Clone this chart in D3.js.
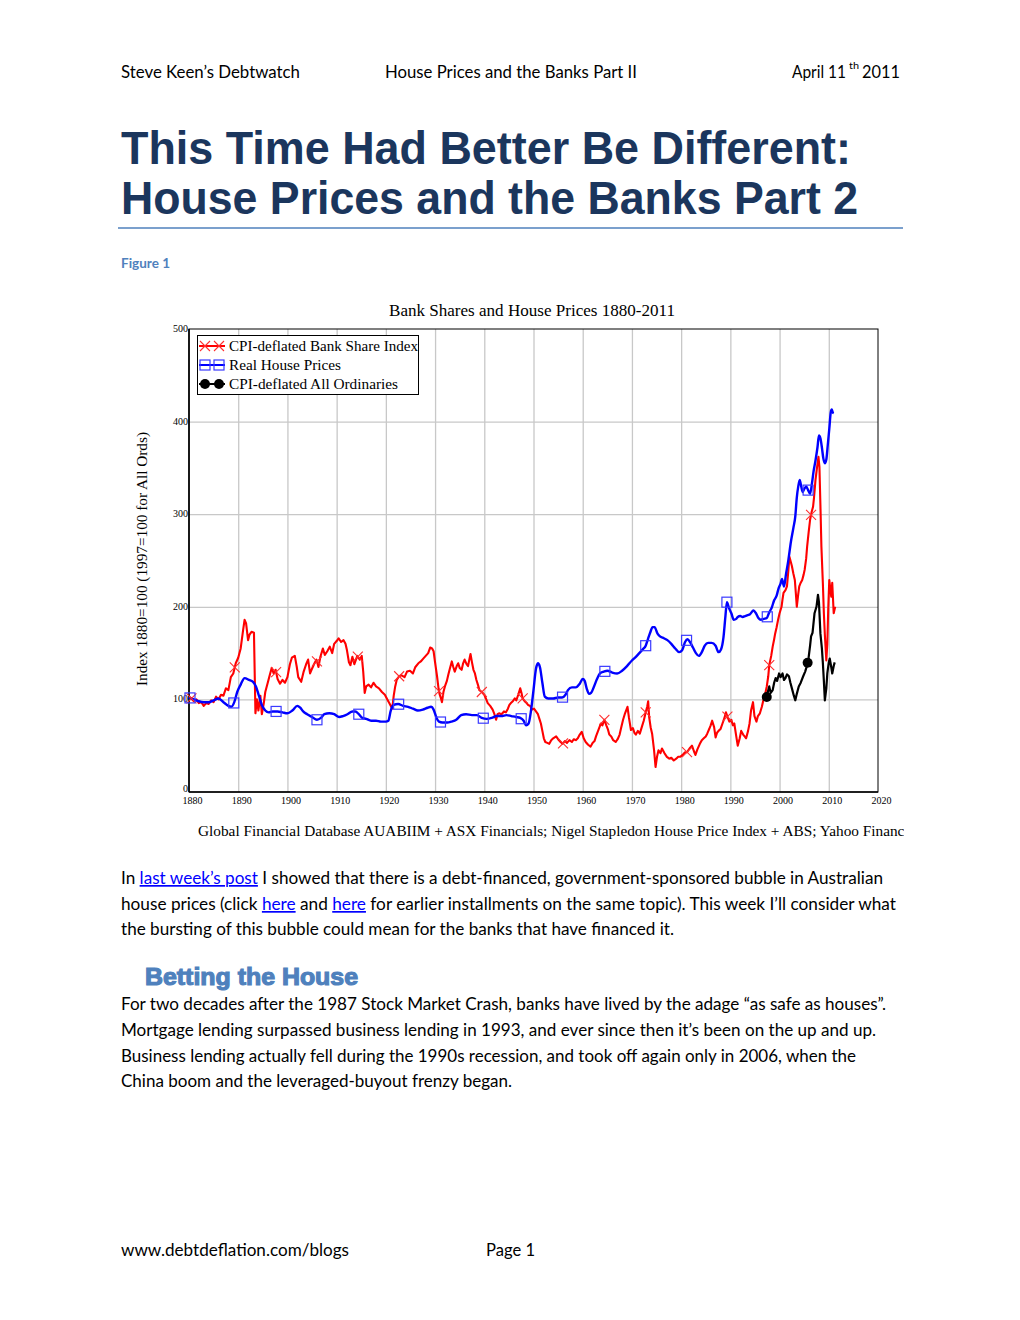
<!DOCTYPE html>
<html><head><meta charset="utf-8">
<script src="https://cdn.jsdelivr.net/npm/d3@7"></script>
<style>
body{margin:0;background:#fff;}
svg{display:block;}
</style></head>
<body><svg id="c" width="1020" height="1320"></svg>
<script>
// ---------------- DATA ----------------
const chartTitle = "Bank Shares and House Prices 1880-2011";
const seriesNames = ["CPI-deflated Bank Share Index", "Real House Prices", "CPI-deflated All Ordinaries"];
const xTicks = [1880,1890,1900,1910,1920,1930,1940,1950,1960,1970,1980,1990,2000,2010,2020];
const yTicks = [0,100,200,300,400,500];

const bankYears = [1880.0,1880.5,1881.0,1881.5,1882.0,1882.5,1883.0,1883.5,1884.0,1884.5,1885.0,1885.5,1886.0,1886.5,1887.0,1887.5,1888.0,1888.5,1889.0,1889.5,1890.0,1890.5,1891.0,1891.3,1891.6,1892.0,1892.3,1892.7,1893.2,1893.5,1893.8,1894.1,1894.5,1894.8,1895.2,1895.5,1896.0,1896.4,1896.8,1897.2,1897.6,1898.0,1898.5,1899.0,1899.5,1900.0,1900.5,1900.9,1901.5,1901.9,1902.2,1902.8,1903.3,1903.8,1904.2,1904.6,1904.9,1905.4,1905.9,1906.3,1906.7,1907.2,1907.6,1908.1,1908.6,1909.1,1909.5,1910.0,1910.4,1910.9,1911.4,1911.8,1912.1,1912.5,1912.8,1913.2,1913.6,1914.2,1914.7,1915.1,1915.4,1915.7,1916.0,1916.5,1917.0,1917.5,1918.0,1918.6,1919.2,1919.8,1920.3,1920.8,1921.3,1921.6,1921.9,1922.2,1922.7,1923.2,1923.8,1924.3,1924.9,1925.5,1926.0,1926.6,1927.1,1927.6,1928.1,1928.6,1929.0,1929.4,1929.7,1930.0,1930.4,1930.7,1930.9,1931.2,1931.4,1931.7,1932.0,1932.4,1932.7,1933.0,1933.4,1933.7,1934.0,1934.4,1934.7,1935.0,1935.4,1935.7,1936.0,1936.4,1936.7,1937.0,1937.2,1937.5,1937.8,1938.1,1938.4,1938.7,1939.0,1939.5,1940.0,1940.4,1940.7,1941.2,1941.7,1942.0,1942.4,1942.7,1943.0,1943.5,1944.0,1944.4,1944.8,1945.1,1945.4,1945.8,1946.2,1946.5,1946.9,1947.3,1947.6,1947.8,1948.2,1948.6,1948.9,1949.3,1949.7,1950.1,1950.5,1950.9,1951.2,1951.5,1951.8,1952.1,1952.4,1952.8,1953.2,1953.6,1954.0,1954.6,1955.0,1955.5,1955.9,1956.4,1956.8,1957.3,1957.8,1958.2,1958.6,1959.0,1959.4,1959.8,1960.2,1960.6,1961.1,1961.6,1962.0,1962.4,1962.7,1963.2,1963.7,1964.0,1964.4,1964.8,1965.1,1965.4,1965.8,1966.2,1966.7,1967.1,1967.5,1967.8,1968.2,1968.6,1969.1,1969.4,1969.8,1970.2,1970.5,1970.8,1971.2,1971.6,1972.0,1972.4,1972.8,1973.1,1973.3,1973.5,1973.8,1974.1,1974.5,1974.8,1975.1,1975.4,1975.8,1976.1,1976.6,1977.1,1977.6,1978.0,1978.5,1979.0,1979.4,1979.8,1980.3,1980.8,1981.2,1981.7,1982.2,1982.6,1982.9,1983.3,1983.8,1984.2,1984.6,1985.0,1985.3,1985.7,1986.0,1986.3,1986.7,1987.0,1987.3,1987.6,1988.0,1988.4,1988.8,1989.1,1989.5,1989.8,1990.2,1990.5,1990.8,1991.2,1991.5,1991.9,1992.2,1992.6,1992.9,1993.2,1993.6,1993.9,1994.2,1994.6,1994.9,1995.3,1995.6,1996.0,1996.4,1996.7,1997.0,1997.4,1997.7,1997.9,1998.3,1998.6,1998.9,1999.1,1999.4,1999.7,2000.0,2000.4,2000.6,2000.8,2001.2,2001.5,2001.8,2002.0,2002.3,2002.5,2002.8,2003.1,2003.3,2003.5,2003.8,2004.0,2004.3,2004.6,2004.9,2005.1,2005.4,2005.6,2005.9,2006.2,2006.5,2006.8,2007.0,2007.3,2007.6,2007.9,2008.1,2008.3,2008.5,2008.8,2009.0,2009.2,2009.5,2009.7,2009.9,2010.1,2010.3,2010.5,2010.7,2011.0,2011.3];
const bankValues = [103,101,98,100,96,97,93,96,95,99,97,103,100,105,104,112,110,124,128,139,145,155,175,186,182,164,170,173,172,85,100,88,104,84,96,108,118,126,134,128,132,122,117,121,118,124,138,145,147,135,124,119,130,138,143,128,132,138,143,135,146,155,148,152,157,150,160,163,166,162,164,160,153,140,137,146,138,147,143,147,130,107,114,116,113,118,114,112,108,105,100,95,90,104,114,121,125,126,124,130,131,128,135,139,141,144,147,150,156,155,152,140,125,112,106,101,97,108,114,120,127,133,141,135,130,136,139,134,132,139,143,138,136,144,149,140,132,128,121,116,110,108,105,100,96,93,89,85,78,84,85,84,87,86,90,94,96,98,101,99,105,112,106,101,98,96,94,93,89,90,87,84,79,74,66,58,54,53,52,56,58,60,57,54,52,55,53,56,54,57,56,58,62,65,58,54,51,49,53,55,60,67,74,72,78,72,68,62,60,56,54,57,62,69,78,85,92,80,67,69,64,62,66,63,70,77,86,92,98,81,70,63,45,27,38,45,42,47,42,38,36,37,34,36,38,38,40,43,43,47,50,44,40,46,52,56,58,60,63,68,72,77,70,59,64,66,68,74,80,86,80,76,78,72,74,60,50,58,66,62,60,58,66,74,88,97,82,76,82,85,92,99,104,114,125,137,147,157,165,171,178,186,193,200,208,215,218,222,240,254,248,244,236,229,215,200,214,222,226,229,235,240,252,265,280,294,302,308,318,337,350,362,351,310,265,225,193,170,142,160,200,229,220,211,226,193,200];

const houseYears = [1880,1881,1882,1883,1884,1885,1886,1887,1888,1888.6,1889.2,1889.8,1890.5,1891.3,1892.2,1893,1893.6,1894.2,1894.8,1895.5,1896.2,1897,1898,1899,1900,1901,1902,1902.6,1903.2,1904,1905,1906,1906.8,1907.5,1908.5,1909.5,1910.5,1911.3,1912.2,1913.2,1913.8,1914.5,1915.2,1916,1917,1918,1919,1920,1920.5,1921,1921.6,1922.5,1923.5,1924.5,1925.5,1926.5,1927.5,1928.5,1929.2,1929.7,1930.3,1930.8,1931.5,1932.5,1933.3,1934.3,1935.3,1936.3,1937.5,1938.5,1939.5,1940.5,1941.5,1942.5,1943.5,1944.5,1945.5,1946.5,1947.3,1948,1948.5,1949,1949.5,1950,1950.5,1950.9,1951.3,1951.8,1952.3,1953,1954,1955,1955.8,1956.5,1957,1957.8,1958.6,1959.4,1960,1960.4,1960.8,1961.3,1961.7,1962.3,1962.9,1963.5,1964.3,1965,1966,1967,1968,1969,1970,1970.8,1971.5,1972.2,1972.8,1973.3,1973.7,1974.2,1974.6,1975.2,1975.7,1976.5,1977.2,1978,1978.8,1979.6,1980.2,1980.8,1981.3,1981.8,1982.4,1983,1983.6,1984.2,1984.8,1985.5,1986.2,1987,1987.6,1988.1,1988.6,1989,1989.3,1989.7,1990.2,1990.7,1991.2,1991.5,1992,1992.5,1993,1993.5,1994,1994.7,1995.2,1995.7,1996.2,1996.8,1997.4,1997.9,1998.4,1998.9,1999.4,1999.8,2000.2,2000.5,2000.9,2001.3,2001.8,2002.3,2002.8,2003.2,2003.5,2003.8,2004.1,2004.4,2004.7,2005,2005.4,2005.8,2006.2,2006.6,2006.9,2007.3,2007.7,2008,2008.3,2008.6,2008.9,2009.2,2009.5,2009.8,2010.1,2010.4,2010.6,2010.8,2011.0];
const houseValues = [102,100,98,97,97,99,101,97,93,92,97,108,116,123,121,119,114,104,94,88,86,87,87,86,85,88,93,91,87,84,81,78,80,84,85,84,81,82,84,87,87,84,80,79,77,77,76,76,77,88,94,95,93,92,90,88,89,91,92,89,80,76,75,75,76,78,83,84,83,83,80,79,80,82,82,83,82,81,80,77,72,74,88,110,133,139,135,118,103,101,101,102,102,105,110,113,113,117,122,120,112,106,107,114,122,128,130,131,129,128,131,136,142,146,150,154,158,166,172,178,178,171,168,166,164,160,155,151,153,162,165,162,156,150,147,151,158,161,161,158,151,154,167,190,205,199,193,186,187,189,190,189,190,191,192,196,193,188,186,187,188,194,199,207,212,220,225,230,222,235,251,270,285,298,318,330,337,330,324,327,330,326,322,334,346,358,372,385,382,372,360,355,359,375,392,410,413,410,409];

const ordsYears = [1997.3,1997.6,1997.9,1998.2,1998.6,1998.9,1999.2,1999.5,1999.9,2000.2,2000.6,2000.9,2001.2,2001.5,2001.9,2002.2,2002.6,2002.9,2003.2,2003.5,2003.9,2004.3,2004.8,2005.2,2005.6,2005.9,2006.2,2006.4,2006.7,2007.1,2007.5,2007.8,2008.0,2008.3,2008.6,2008.8,2009.0,2009.2,2009.5,2009.7,2010.0,2010.2,2010.5,2010.7,2011.0,2011.2];
const ordsValues = [100,108,114,107,110,118,123,120,128,124,128,121,123,127,125,118,110,104,99,106,114,118,125,130,137,145,158,168,172,193,200,213,205,171,155,139,120,99,112,128,140,144,135,128,136,140];

const bankMarkerYears = [1880.5,1889.3,1897.7,1906.0,1914.3,1922.7,1930.8,1939.5,1947.8,1956.0,1964.4,1972.8,1981.2,1989.4,1997.9,2006.4];
const houseMarkerYears = [1880.2,1889.1,1897.7,1906.0,1914.5,1922.6,1931.1,1939.8,1947.5,1955.9,1964.5,1972.8,1981.1,1989.3,1997.5,2005.8];
const ordsMarkerYears = [1997.4,2005.7];

// ---------------- PAGE TEXT ----------------
const svg = d3.select("#c");
svg.append("rect").attr("width",1020).attr("height",1320).attr("fill","#fff");

const BODY = "Lato, 'Open Sans', sans-serif";
const SERIF = "'Liberation Serif', 'DejaVu Serif', serif";
const SANS = "'Liberation Sans', Arial, sans-serif";

function line(segs, x, y, opts){
  const t = svg.append("text").attr("x",x).attr("y",y)
    .attr("font-family",opts.font||BODY).attr("font-size",opts.size||17)
    .attr("fill",opts.fill||"#000").attr("font-weight",opts.weight||"normal");
  if(opts.anchor) t.attr("text-anchor",opts.anchor);
  if(opts.width){ t.attr("textLength",opts.width).attr("lengthAdjust","spacingAndGlyphs"); }
  (typeof segs==="string"?[segs]:segs).forEach(s=>{
    if(typeof s==="string") t.append("tspan").text(s);
    else if(s.link) t.append("tspan").text(s.link).attr("fill","#0000ff").attr("text-decoration","underline");
  });
  return t;
}

// header
line("April 11",792,78,{width:54});
line("th",849,69,{size:10,width:10});
line("2011",862,78,{width:38});
line("Steve Keen’s Debtwatch",121,78,{width:179});
line("House Prices and the Banks Part II",385,78,{width:252});

// title
line("This Time Had Better Be Different:",121,164,{font:SANS,size:47,weight:"bold",fill:"#1b365d",width:730});
line("House Prices and the Banks Part 2",121,214,{font:SANS,size:47,weight:"bold",fill:"#1b365d",width:737});
svg.append("line").attr("x1",118).attr("x2",903).attr("y1",228).attr("y2",228).attr("stroke","#4f81bd").attr("stroke-width",1.5);

line("Figure 1",121,268,{size:14,weight:"bold",fill:"#4f81bd",width:49});

// body
line(["In ",{link:"last week’s post"}," I showed that there is a debt-financed, government-sponsored bubble in Australian"],121,884,{width:762});
line(["house prices (click ",{link:"here"}," and ",{link:"here"}," for earlier installments on the same topic). This week I’ll consider what"],121,910,{width:775});
line("the bursting of this bubble could mean for the banks that have financed it.",121,935,{width:553});

line("Betting the House",145,985,{font:SANS,size:23,weight:"bold",fill:"#4f81bd",width:213})
  .attr("stroke","#4f81bd").attr("stroke-width",1.1);

line("For two decades after the 1987 Stock Market Crash, banks have lived by the adage “as safe as houses”.",121,1010,{width:765});
line("Mortgage lending surpassed business lending in 1993, and ever since then it’s been on the up and up.",121,1036,{width:755});
line("Business lending actually fell during the 1990s recession, and took off again only in 2006, when the",121,1062,{width:735});
line("China boom and the leveraged-buyout frenzy began.",121,1087,{width:391});

line("www.debtdeflation.com/blogs",121,1256,{width:228});
line("Page 1",486,1256,{width:49});

// ---------------- CHART ----------------
const x = d3.scaleLinear().domain([1880,2020]).range([189,878]);
const y = d3.scaleLinear().domain([0,500]).range([792,329]);
const plotH = 792-329;

const chart = svg.append("g");

// gridlines via axes
chart.append("g").attr("transform","translate(0,792)")
  .call(d3.axisBottom(x).tickValues(xTicks.slice(1,-1)).tickSize(-plotH).tickFormat(""))
  .call(g=>{g.select(".domain").remove(); g.selectAll("line").attr("stroke","#c8c8c8").attr("stroke-width",1.3);});
chart.append("g").attr("transform","translate(189,0)")
  .call(d3.axisLeft(y).tickValues(yTicks.slice(1,-1)).tickSize(-(878-189)).tickFormat(""))
  .call(g=>{g.select(".domain").remove(); g.selectAll("line").attr("stroke","#c8c8c8").attr("stroke-width",1.3);});

// frame
chart.append("rect").attr("x",189).attr("y",329).attr("width",878-189).attr("height",plotH)
  .attr("fill","none").attr("stroke","#000").attr("stroke-width",1);
chart.append("line").attr("x1",189).attr("x2",189).attr("y1",329).attr("y2",792).attr("stroke","#000").attr("stroke-width",1.6);
chart.append("line").attr("x1",189).attr("x2",878).attr("y1",792).attr("y2",792).attr("stroke","#000").attr("stroke-width",1.6);

// tick labels
chart.append("g").attr("transform","translate(0,792)")
  .call(d3.axisBottom(x).tickValues(xTicks).tickSize(0).tickPadding(5).tickFormat(d3.format("d")))
  .call(g=>{g.select(".domain").remove(); g.selectAll("text").attr("font-family",SERIF).attr("font-size",10).attr("fill","#000").attr("dx",3);});
chart.append("g").attr("transform","translate(189,0)")
  .call(d3.axisLeft(y).tickValues(yTicks).tickSize(0).tickPadding(1))
  .call(g=>{g.select(".domain").remove(); g.selectAll("text").attr("font-family",SERIF).attr("font-size",10).attr("fill","#000")
    .attr("dy",d=>d===0?"-0.05em":"0.25em");});

// titles
svg.append("text").attr("x",532).attr("y",316).attr("text-anchor","middle").attr("font-family",SERIF)
  .attr("font-size",16).text(chartTitle).attr("textLength",286).attr("lengthAdjust","spacingAndGlyphs");
svg.append("text").attr("transform","translate(147,559) rotate(-90)").attr("text-anchor","middle").attr("font-family",SERIF)
  .attr("font-size",14).text("Index 1880=100 (1997=100 for All Ords)").attr("textLength",254).attr("lengthAdjust","spacingAndGlyphs");
svg.append("clipPath").attr("id","capclip").append("rect").attr("x",0).attr("y",800).attr("width",904).attr("height",60);
svg.append("text").attr("x",198).attr("y",836).attr("font-family",SERIF).attr("font-size",15.3).attr("clip-path","url(#capclip)")
  .text("Global Financial Database AUABIIM + ASX Financials; Nigel Stapledon House Price Index + ABS; Yahoo Finance");

// series
function zip(ys, vs){ return ys.map((yr,i)=>({year:yr,value:vs[i]})); }
function interp(data, yr){
  const i = d3.bisector(d=>d.year).left(data, yr);
  if(i<=0) return data[0].value;
  if(i>=data.length) return data[data.length-1].value;
  const a=data[i-1], b=data[i]; const t=(yr-a.year)/(b.year-a.year);
  return a.value+(b.value-a.value)*t;
}
const bank = zip(bankYears, bankValues);
const house = zip(houseYears, houseValues);
const ords = zip(ordsYears, ordsValues);

const lineLin = d3.line().x(d=>x(d.year)).y(d=>y(d.value));
const lineSmooth = d3.line().x(d=>x(d.year)).y(d=>y(d.value)).curve(d3.curveMonotoneX);

const plot = chart.append("g");
plot.append("path").datum(bank).attr("d",lineLin).attr("fill","none").attr("stroke","#ff0000").attr("stroke-width",2.1).attr("stroke-linejoin","round");
plot.append("path").datum(house).attr("d",lineSmooth).attr("fill","none").attr("stroke","#0000ff").attr("stroke-width",2.4).attr("stroke-linejoin","round");
plot.append("path").datum(ords).attr("d",lineLin).attr("fill","none").attr("stroke","#000").attr("stroke-width",2.2).attr("stroke-linejoin","round");

function cross(g, cx, cy){ g.append("path").attr("d",`M${cx-5},${cy-5}L${cx+5},${cy+5}M${cx-5},${cy+5}L${cx+5},${cy-5}`).attr("stroke","#ff3030").attr("stroke-width",1.1).attr("fill","none"); }
function square(g, cx, cy){ g.append("rect").attr("x",cx-5).attr("y",cy-5).attr("width",10).attr("height",10).attr("fill","none").attr("stroke","#3a3aff").attr("stroke-width",1.2); }
function dot(g, cx, cy){ g.append("circle").attr("cx",cx).attr("cy",cy).attr("r",5).attr("fill","#000"); }

bankMarkerYears.forEach(yr=>cross(plot, x(yr), y(interp(bank,yr))));
houseMarkerYears.forEach(yr=>square(plot, x(yr), y(interp(house,yr))));
ordsMarkerYears.forEach(yr=>dot(plot, x(yr), y(interp(ords,yr))));

// legend
const lg = chart.append("g");
lg.append("rect").attr("x",197.5).attr("y",335.5).attr("width",221).attr("height",59).attr("fill","#fff").attr("stroke","#000").attr("stroke-width",1);
const legendColors = ["#ff0000","#0000ff","#000"];
const legendMarkers = [cross, square, dot];
const legendWidths = [189,112,169];
seriesNames.forEach((n,i)=>{
  const ly = 346 + i*19;
  lg.append("line").attr("x1",199).attr("x2",225).attr("y1",ly).attr("y2",ly).attr("stroke",legendColors[i]).attr("stroke-width",2);
  legendMarkers[i](lg, 205, ly); legendMarkers[i](lg, 219, ly);
  lg.append("text").attr("x",229).attr("y",ly+5).attr("font-family",SERIF).attr("font-size",15)
    .attr("textLength",legendWidths[i]).attr("lengthAdjust","spacingAndGlyphs").text(n);
});
</script></body></html>
